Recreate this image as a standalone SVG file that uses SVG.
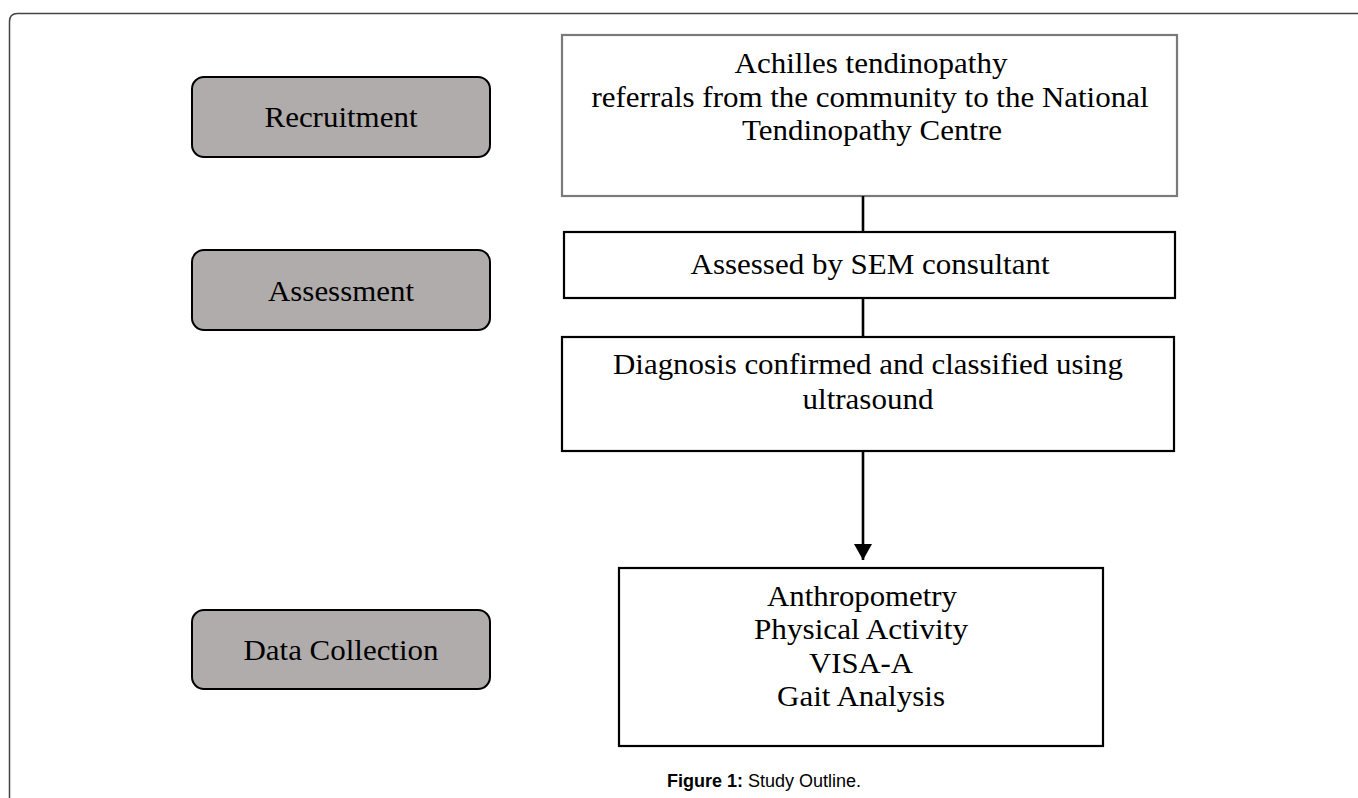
<svg xmlns="http://www.w3.org/2000/svg" width="1358" height="798" viewBox="0 0 1358 798">
<style>
.phase{fill:#b0acab;stroke:#000;stroke-width:2}
.box{fill:#fff;stroke:#000;stroke-width:2.2}
.box1{fill:#fff;stroke:#7a7a7a;stroke-width:2.2}
.t{font-family:"Liberation Serif","Times New Roman",serif;font-size:30px;fill:#000;text-anchor:middle}
.conn{stroke:#000;stroke-width:2.6;fill:none}
.cap{font-family:"Liberation Sans",Arial,sans-serif;font-size:18px;fill:#000}
</style>
<defs>
<marker id="ah" markerWidth="18" markerHeight="18" refX="16" refY="9" orient="auto" markerUnits="userSpaceOnUse">
<path d="M0,0 L16,9 L0,18 Z" fill="#000"/>
</marker>
</defs>
<rect width="1358" height="798" fill="#fff"/>
<path d="M9.5,798 L9.5,21.5 Q9.5,13.5 17.5,13.5 L1358,13.5" fill="none" stroke="#444" stroke-width="1.5"/>

<g id="recruitment">
<rect class="phase" x="192" y="77" width="298" height="80" rx="12"/>
<text class="t" x="341" y="127" textLength="153" lengthAdjust="spacingAndGlyphs">Recruitment</text>
</g>
<g id="assessment">
<rect class="phase" x="192" y="250" width="298" height="80" rx="12"/>
<text class="t" x="341" y="301" textLength="146" lengthAdjust="spacingAndGlyphs">Assessment</text>
</g>
<g id="data-collection">
<rect class="phase" x="192" y="610" width="298" height="79" rx="12"/>
<text class="t" x="341" y="660" textLength="195" lengthAdjust="spacingAndGlyphs">Data Collection</text>
</g>

<g id="referrals">
<rect class="box1" x="562" y="35" width="615" height="161"/>
<text class="t" x="871" y="73" textLength="273" lengthAdjust="spacingAndGlyphs">Achilles tendinopathy</text>
<text class="t" x="870" y="107" textLength="557" lengthAdjust="spacingAndGlyphs">referrals from the community to the National</text>
<text class="t" x="872" y="140" textLength="260" lengthAdjust="spacingAndGlyphs">Tendinopathy Centre</text>
</g>
<g id="assessed">
<rect class="box" x="564" y="232" width="611" height="66"/>
<text class="t" x="870" y="274" textLength="359" lengthAdjust="spacingAndGlyphs">Assessed by SEM consultant</text>
</g>
<g id="diagnosis">
<rect class="box" x="562" y="337" width="612" height="114"/>
<text class="t" x="868" y="374" textLength="510" lengthAdjust="spacingAndGlyphs">Diagnosis confirmed and classified using</text>
<text class="t" x="868" y="409" textLength="131" lengthAdjust="spacingAndGlyphs">ultrasound</text>
</g>
<g id="data">
<rect class="box" x="619" y="568" width="484" height="178"/>
<text class="t" x="862" y="606" textLength="190" lengthAdjust="spacingAndGlyphs">Anthropometry</text>
<text class="t" x="861" y="639" textLength="214" lengthAdjust="spacingAndGlyphs">Physical Activity</text>
<text class="t" x="861" y="673" textLength="104" lengthAdjust="spacingAndGlyphs">VISA-A</text>
<text class="t" x="861" y="706" textLength="168" lengthAdjust="spacingAndGlyphs">Gait Analysis</text>
</g>

<g id="connectors">
<line class="conn" x1="863" y1="196" x2="863" y2="232"/>
<line class="conn" x1="863" y1="298" x2="863" y2="337"/>
<line class="conn" x1="863" y1="451" x2="863" y2="560" marker-end="url(#ah)"/>
</g>

<text class="cap" x="667" y="787"><tspan font-weight="bold">Figure 1:</tspan> Study Outline.</text>
</svg>
